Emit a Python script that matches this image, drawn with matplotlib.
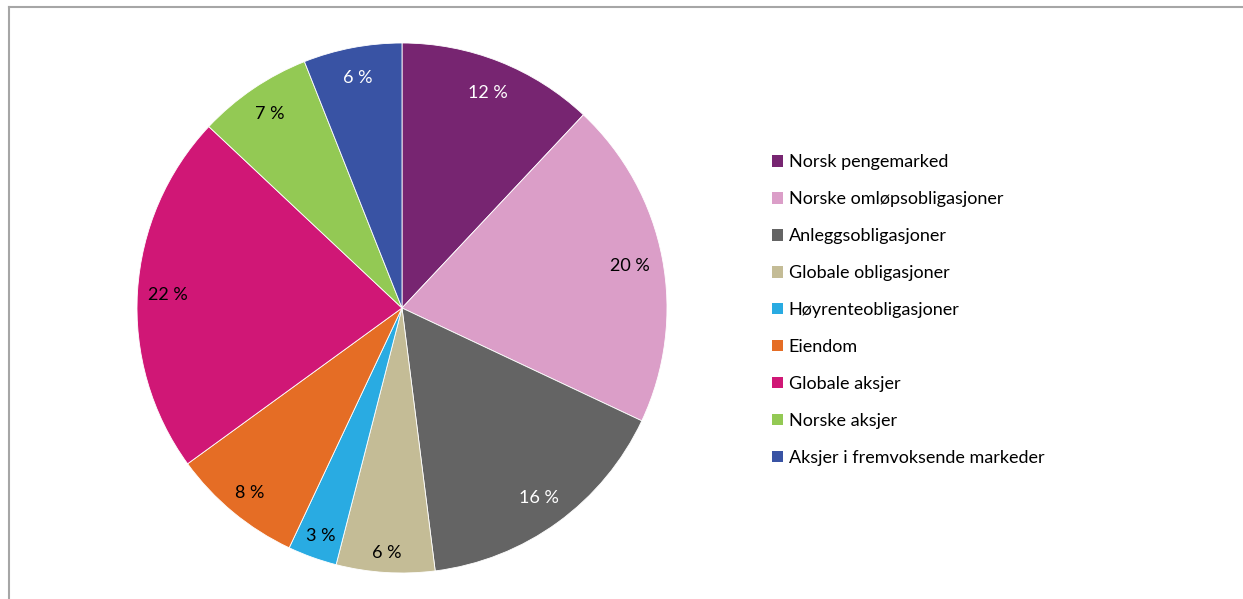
import matplotlib
matplotlib.use("Agg")
import numpy as np
import matplotlib.pyplot as plt
from matplotlib.patches import Patch
from matplotlib.lines import Line2D

# =============================================================================
# Data
# =============================================================================
categories = [
    "Norsk pengemarked",
    "Norske omløpsobligasjoner",
    "Anleggsobligasjoner",
    "Globale obligasjoner",
    "Høyrenteobligasjoner",
    "Eiendom",
    "Globale aksjer",
    "Norske aksjer",
    "Aksjer i fremvoksende markeder",
]
shares = [12, 20, 16, 6, 3, 8, 22, 7, 6]
colors = ["#772571", "#DB9EC8", "#646464", "#C4BC96", "#29ABE2",
          "#E56D25", "#D01776", "#93C954", "#3953A4"]
label_colors = ["white", "black", "white", "black", "black",
                "black", "black", "black", "white"]
# label distance from centre (fraction of radius), per slice
label_dist = [0.88, 0.875, 0.88, 0.92, 0.91, 0.90, 0.885, 0.89, 0.89]

plt.rcParams["font.family"] = ["Lato", "DejaVu Sans"]

W, H = 1243, 599
fig = plt.figure(figsize=(W / 100, H / 100), dpi=100)

# pie axes: centre (402, 308), radius 265 px
cx, cy, r = 402, 308, 265
ax = fig.add_axes([(cx - r) / W, (H - cy - r) / H, 2 * r / W, 2 * r / H])
wedges, texts = ax.pie(
    shares, colors=colors, startangle=90, counterclock=False,
    labels=[f"{v} %" for v in shares], labeldistance=0.88,
    wedgeprops=dict(edgecolor="white", linewidth=0.6),
    textprops=dict(fontsize=13, ha="center", va="center_baseline"),
)
for w, t, c, d in zip(wedges, texts, label_colors, label_dist):
    mid = np.deg2rad((w.theta1 + w.theta2) / 2)
    t.set_position((d * np.cos(mid), d * np.sin(mid)))
    t.set_va("center_baseline")
    t.set_color(c)
ax.set_xlim(-1, 1)
ax.set_ylim(-1, 1)

# legend
handles = [Patch(facecolor=c, edgecolor="none") for c in colors]
fig.legend(handles, categories, loc="center left",
           bbox_to_anchor=(772 / W, 1 - 310 / H), frameon=False,
           fontsize=13, handlelength=0.62, handleheight=0.62,
           handletextpad=0.3, labelspacing=1.16, borderpad=0,
           borderaxespad=0)

# chart border (top and left)
border = "#A6A6A6"
fig.add_artist(Line2D([9 / W, 1], [1 - 7 / H, 1 - 7 / H],
                      transform=fig.transFigure, color=border, lw=1.5))
fig.add_artist(Line2D([9 / W, 9 / W], [0, 1 - 7 / H],
                      transform=fig.transFigure, color=border, lw=1.5))

fig.savefig("out.png", dpi=100)
